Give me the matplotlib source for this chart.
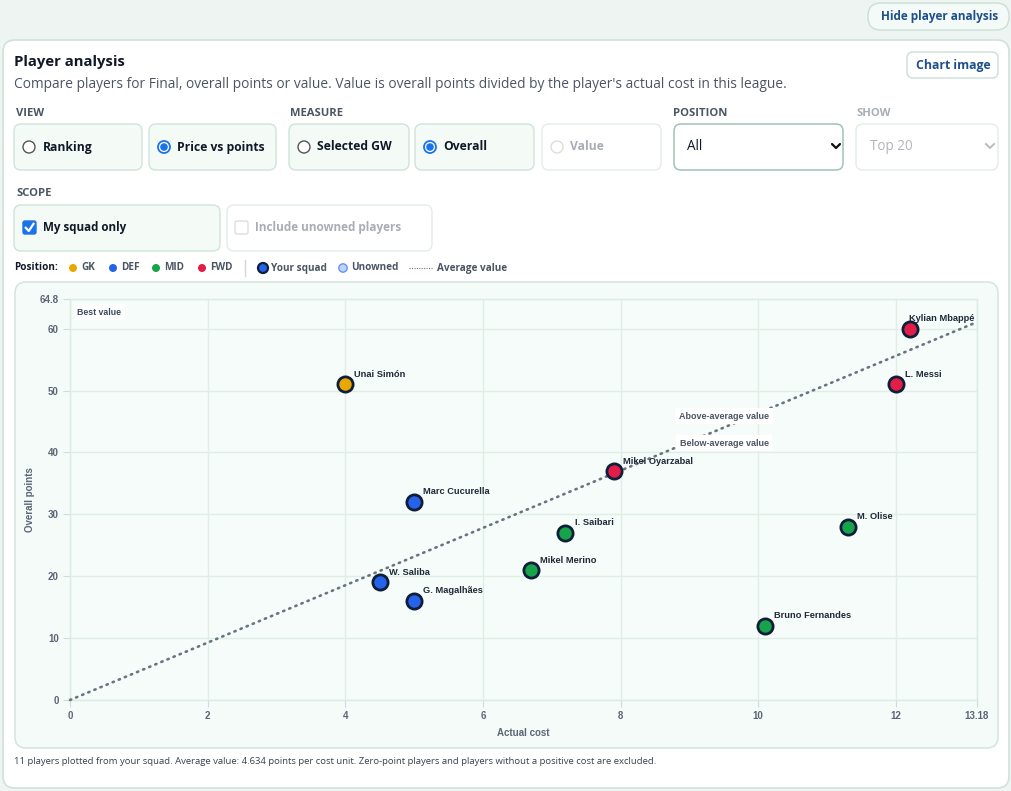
import matplotlib
matplotlib.use("Agg")
import matplotlib.pyplot as plt
from matplotlib.patches import FancyBboxPatch, Circle
import numpy as np

plt.rcParams['font.family'] = ['Open Sans', 'DejaVu Sans']

# ---------------- data ----------------
players = ["Unai Simón", "Kylian Mbappé", "L. Messi", "Mikel Oyarzabal", "Marc Cucurella",
           "I. Saibari", "M. Olise", "Mikel Merino", "W. Saliba", "G. Magalhães", "Bruno Fernandes"]
positions = ["GK", "FWD", "FWD", "FWD", "DEF", "MID", "MID", "MID", "DEF", "DEF", "MID"]
costs = [4.0, 12.2, 12.0, 7.9, 5.0, 7.2, 11.3, 6.7, 4.5, 5.0, 10.1]
points = [51, 60, 51, 37, 32, 27, 28, 21, 19, 16, 12]
x_ticks = [0, 2, 4, 6, 8, 10, 12, 13.18]
y_ticks = [0, 10, 20, 30, 40, 50, 60, 64.8]
x_tick_labels = ["0", "2", "4", "6", "8", "10", "12", "13.18"]
y_tick_labels = ["0", "10", "20", "30", "40", "50", "60", "64.8"]
pos_colors = {"GK": "#e9a800", "DEF": "#2563eb", "MID": "#16a34a", "FWD": "#e11d48"}
average_value = 4.634

NARROW = ["Liberation Sans Narrow", "Liberation Sans", "DejaVu Sans"]

W, H = 1012, 791
fig = plt.figure(figsize=(W / 100, H / 100), dpi=100)
fig.patch.set_facecolor("#eef5f2")

bg = fig.add_axes([0, 0, 1, 1], zorder=0)
bg.set_xlim(0, W)
bg.set_ylim(H, 0)
bg.axis("off")

def px(v):
    return v * 0.72

def rbox(x, y, w, h, fc, ec, r=8, lw=1.0, z=1):
    p = FancyBboxPatch((x, y), w, h, boxstyle=f"round,pad=0,rounding_size={r}",
                       fc=fc, ec=ec, lw=lw, zorder=z)
    bg.add_patch(p)
    return p

def txt(x, y, s, size, color="#1f2937", weight="normal", ha="left", va="center", **kw):
    bg.text(x, y, s, fontsize=px(size), color=color, fontweight=weight, ha=ha, va=va, zorder=5, **kw)

# page top tint
bg.imshow(np.dstack([np.full((50, 1), 0.93), np.full((50, 1), 0.96), np.full((50, 1), 0.95)]),
          extent=[0, W, 40, 0], aspect="auto", zorder=0.1)

# main card
rbox(3, 40, 1006, 748, "#ffffff", "#cfe3da", r=12, lw=1.2)

# Hide player analysis button
rbox(868, 3, 141, 27, "#f4faf7", "#c9dfd5", r=13)
txt(940, 16.5, "Hide player analysis", 11.8, color="#1d4f8c", weight="bold", ha="center")

# title & subtitle
txt(14, 62, "Player analysis", 14.9, color="#111827", weight="bold")
txt(14, 84, "Compare players for Final, overall points or value. Value is overall points divided by the player's actual cost in this league.",
    13.8, color="#4b5563")
rbox(907, 52, 91, 26, "#ffffff", "#c9dfd5", r=6)
txt(953, 65, "Chart image", 12.2, color="#1d4f8c", weight="bold", ha="center")

# section labels
for (x, s, c) in [(16, "VIEW", "#4b5563"), (290, "MEASURE", "#4b5563"),
                  (673, "POSITION", "#4b5563"), (856, "SHOW", "#a8aeb6")]:
    txt(x, 113, s, 11.3, color=c, weight="bold")
txt(16, 193, "SCOPE", 11.3, color="#4b5563", weight="bold")

# option boxes
opts = [(14, 128, "Ranking", False, True), (149, 127, "Price vs points", True, True),
        (289, 120, "Selected GW", False, True), (415, 119, "Overall", True, True),
        (542, 119, "Value", False, False)]
for (x, w, s, sel, enabled) in opts:
    if enabled:
        rbox(x, 124, w, 46, "#f4fbf7", "#cfe3da", r=7)
    else:
        rbox(x, 124, w, 46, "#ffffff", "#e3ece8", r=7)
    cx, cy = x + 15, 147
    if sel:
        bg.add_patch(Circle((cx, cy), 6, fc="#ffffff", ec="#1a73e8", lw=1.3, zorder=3))
        bg.add_patch(Circle((cx, cy), 3.8, fc="#1a73e8", ec="none", zorder=4))
    elif enabled:
        bg.add_patch(Circle((cx, cy), 6, fc="#ffffff", ec="#555555", lw=1.0, zorder=3))
    else:
        bg.add_patch(Circle((cx, cy), 6, fc="#ffffff", ec="#dddddd", lw=1.0, zorder=3))
    txt(x + 28.5, 147, s, 12.1, color="#111827" if enabled else "#a8aeb6", weight="bold")

# selects
rbox(674, 124, 169, 46, "#ffffff", "#9fc4b2", r=7, lw=1.1)
txt(687, 146, "All", 13.5, color="#111827")
bg.plot([832, 836, 840], [144, 148, 144], color="#111", lw=1.6, zorder=5, solid_capstyle="round")
rbox(856, 124, 142, 46, "#ffffff", "#e3ece8", r=7)
txt(870, 146, "Top 20", 13.5, color="#b0b5bb")
bg.plot([986, 990, 994], [144, 148, 144], color="#b8bcc2", lw=1.4, zorder=5)

# scope boxes
rbox(14, 205, 206, 46, "#f4fbf7", "#cfe3da", r=7)
bg.add_patch(FancyBboxPatch((23, 221), 13, 13, boxstyle="round,pad=0,rounding_size=2",
                            fc="#1a73e8", ec="#1a73e8", zorder=4))
bg.plot([25.8, 28.8, 33.5], [227.8, 231, 223.8], color="white", lw=1.6, zorder=5)
txt(43, 228, "My squad only", 11.6, color="#111827", weight="bold")
rbox(227, 205, 205, 46, "#ffffff", "#e3ece8", r=7)
bg.add_patch(FancyBboxPatch((235, 221), 13, 13, boxstyle="round,pad=0,rounding_size=2",
                            fc="#ffffff", ec="#dddddd", zorder=4))
txt(255, 228, "Include unowned players", 11.7, color="#a8aeb6", weight="bold")

# legend row
ly = 268
txt(14, ly, "Position:", 10, color="#111827", weight="bold")
for (x, lab) in [(73, "GK"), (113, "DEF"), (156, "MID"), (202, "FWD")]:
    bg.add_patch(Circle((x, ly), 4, fc=pos_colors[lab], ec="none", zorder=4))
    txt(x + 8.5, ly, lab, 10, color="#4b5563", weight="bold")
bg.plot([245, 245], [260, 276], color="#d1d9d5", lw=1, zorder=4)
bg.add_patch(Circle((263, ly), 5, fc="#2563eb", ec="#0f1f3a", lw=1.6, zorder=4))
txt(271.5, ly, "Your squad", 10, color="#4b5563", weight="bold")
bg.add_patch(Circle((343, ly), 4.2, fc="#bcd3fb", ec="#5b8ef0", lw=0.9, zorder=4))
txt(351.5, ly, "Unowned", 10, color="#4b5563", weight="bold")
bg.plot([409, 433], [ly, ly], color="#6b7280", lw=0.8, ls=(0, (1, 1.2)), zorder=4)
txt(437.5, ly, "Average value", 10, color="#4b5563", weight="bold")

# chart card
rbox(15, 282, 983, 466, "#f5fbf8", "#d3e6dc", r=11, lw=1.1)

# footnote
txt(14, 761, "11 players plotted from your squad. Average value: 4.634 points per cost unit. Zero-point players and players without a positive cost are excluded.",
    9.5, color="#374151")

# ---------------- chart axes ----------------
L, R, T, B = 70, 977, 299, 700
ax = fig.add_axes([L / W, (H - B) / H, (R - L) / W, (B - T) / H], zorder=2)
ax.set_facecolor("#f6fcf9")
ax.set_xlim(0, 13.18)
ax.set_ylim(0, 64.8)
ax.set_xticks(x_ticks)
ax.set_xticklabels(x_tick_labels)
ax.set_yticks(y_ticks)
ax.set_yticklabels(y_tick_labels)
for s in ax.spines.values():
    s.set_color("#dcebe3")
    s.set_linewidth(1)
ax.grid(True, color="#e1eee7", lw=1)
ax.set_axisbelow(True)
ax.tick_params(axis="both", length=5, width=0.8, color="#cfdcd5", labelsize=px(9.8),
               labelcolor="#5b6575", pad=3)
for lab in ax.get_xticklabels() + ax.get_yticklabels():
    lab.set_fontweight("bold")
    lab.set_family(NARROW)

ax.set_xlabel("Actual cost", fontsize=px(9.8), color="#5b6575", labelpad=5,
              fontweight="bold", family=NARROW)
ax.set_ylabel("Overall points", fontsize=px(9.8), color="#5b6575", labelpad=3.5,
              fontweight="bold", family=NARROW)

# average value line
xs = np.array([0, 13.18])
ax.plot(xs, average_value * xs, color="#6b7280", lw=1.9, ls=(0, (0.5, 2.0)),
        dash_capstyle="round", zorder=3, clip_on=False)

# points
for name, pos, c, p in zip(players, positions, costs, points):
    ax.scatter([c], [p], s=120, c=pos_colors[pos], edgecolors="#0f1f3a", linewidths=2.0, zorder=5)
    near_right = c > 12.1
    ax.annotate(name, (c, p), xytext=(-0.7 if near_right else 6.5, 7.2), textcoords="offset points",
                fontsize=px(9.3), fontweight="bold", color="#1f2937", ha="left", va="center",
                zorder=6, family=NARROW)

# region labels
bbox = dict(boxstyle="square,pad=0.4", fc="white", ec="none")
ax.text(0.008, 0.978, "Best value", transform=ax.transAxes, fontsize=px(8.8), color="#3d4a5c",
        ha="left", va="top", bbox=bbox, zorder=4, fontweight="bold", family=NARROW)
ax.annotate("Above-average value", xy=((724 - L) / (R - L), (B - 416) / (B - T)), xycoords="axes fraction",
            fontsize=px(9.0), color="#4b5563", ha="center", va="center", bbox=bbox, zorder=4,
            fontweight="bold", family=NARROW)
ax.annotate("Below-average value", xy=((724 - L) / (R - L), (B - 443) / (B - T)), xycoords="axes fraction",
            fontsize=px(9.0), color="#4b5563", ha="center", va="center", bbox=bbox, zorder=4,
            fontweight="bold", family=NARROW)

fig.savefig("out.png", dpi=100, facecolor=fig.get_facecolor())
